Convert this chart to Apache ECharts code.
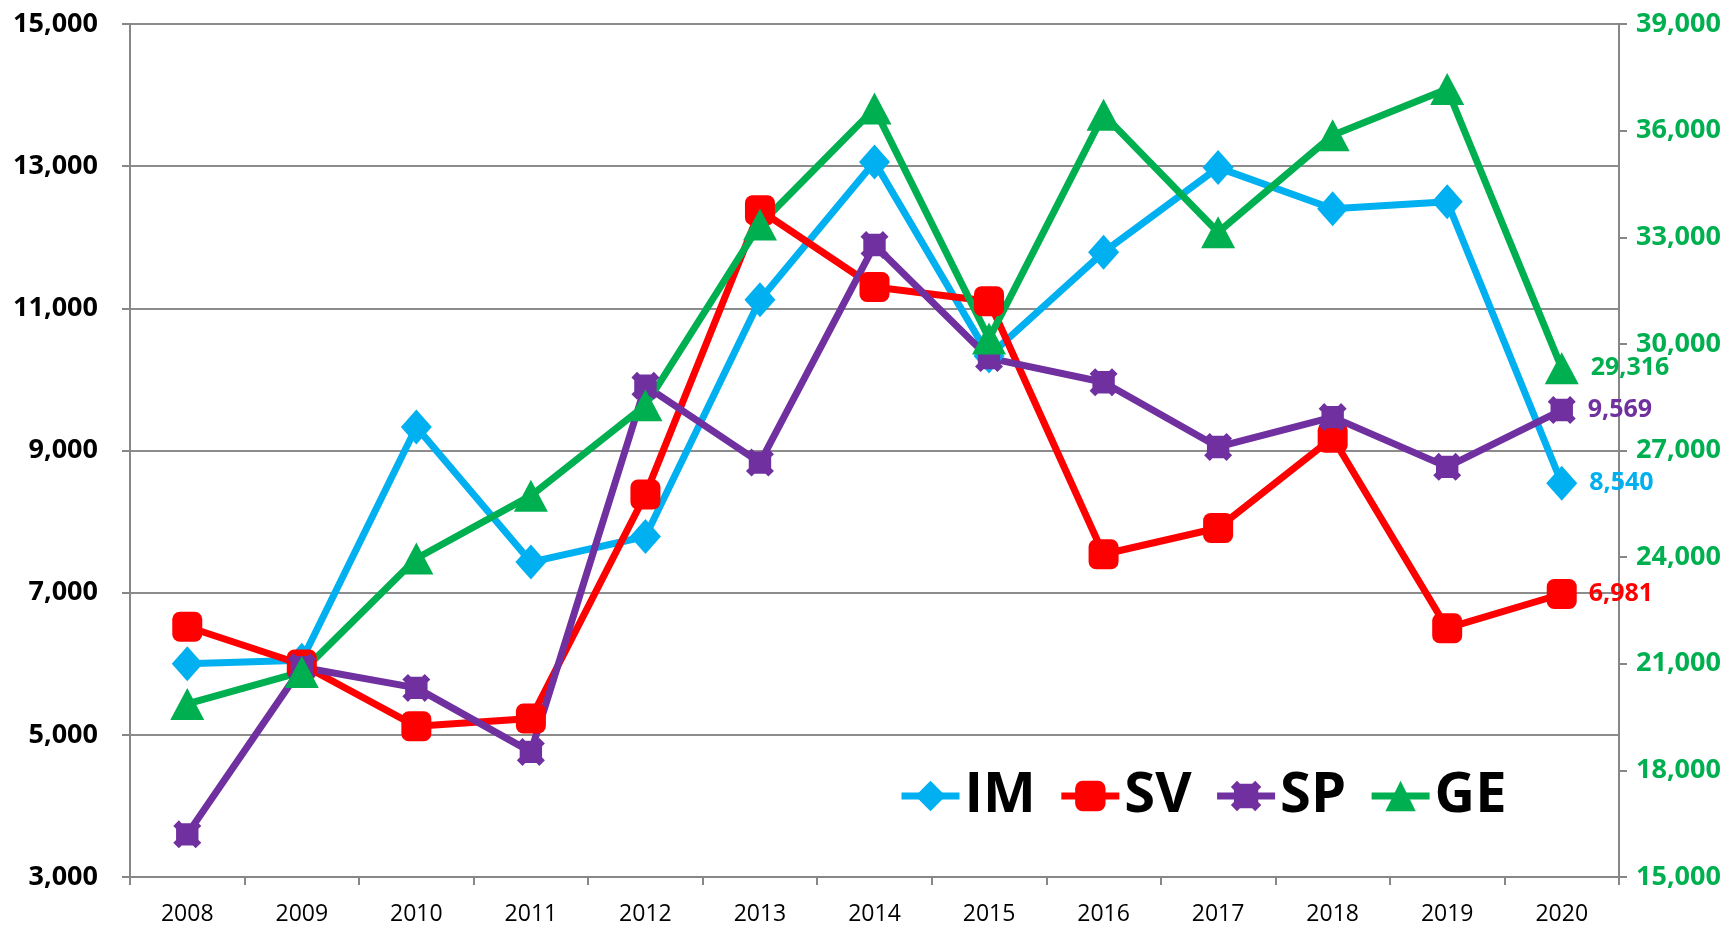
<!DOCTYPE html>
<html>
<head>
<meta charset="utf-8">
<title>IM SV SP GE</title>
<script src="https://cdn.jsdelivr.net/npm/echarts@6/dist/echarts.min.js"></script>
<style>
  html, body { margin: 0; padding: 0; background: #fff; }
  #chart { width: 1733px; height: 926px; }
</style>
</head>
<body>
<div id="chart"></div>
<script>
const years = ["2008", "2009", "2010", "2011", "2012", "2013", "2014", "2015", "2016", "2017", "2018", "2019", "2020"];

// left axis
const imValues = [6000, 6050, 9330, 7430, 7790, 11120, 13060, 10330, 11790, 12980, 12400, 12500, 8540];
const svValues = [6520, 5990, 5120, 5230, 8380, 12380, 11300, 11100, 7540, 7910, 9180, 6500, 6981];
const spValues = [3600, 5950, 5660, 4760, 9910, 8830, 11890, 10300, 9960, 9050, 9470, 8770, 9569];
// right axis
const geValues = [19870, 20770, 23960, 25730, 28270, 33360, 36620, 30150, 36450, 33140, 35870, 37170, 29316];

const leftAxisRange = { min: 3000, max: 15000, interval: 2000 };
const rightAxisRange = { min: 15000, max: 39000, interval: 3000 };

const fontFamily = "'Open Sans', 'Noto Sans', sans-serif";
const axisGray = "#878787";

const fmt = (v) => Number(v).toLocaleString("en-US");

const spPath = "path://M0,2 L2,0 L3,1 L7,1 L8,0 L10,2 L9,3 L9,7 L10,8 L8,10 L7,9 L3,9 L2,10 L0,8 L1,7 L1,3 Z";

const makeSeries = (name, data, color, symbol, symbolSize, yAxisIndex) => ({
  name,
  type: "line",
  data,
  yAxisIndex,
  symbol,
  symbolSize,
  showAllSymbol: true,
  lineStyle: { width: 7, color },
  itemStyle: { color },
  emphasis: { disabled: true },
  label: {
    show: true,
    position: "right",
    distance: 12,
    color,
    fontFamily,
    fontWeight: "bold",
    fontSize: 25,
    formatter: (p) => (p.dataIndex === data.length - 1 ? fmt(p.value) : ""),
  },
});

const chart = echarts.init(document.getElementById("chart"));

const option = {
  animation: false,
  textStyle: { fontFamily },
  grid: {
    left: 130,
    right: 114,
    top: 24,
    bottom: 48,
  },
  legend: {
    left: 893,
    top: 763,
    itemWidth: 58,
    itemHeight: 38,
    itemGap: 22,
    lineStyle: { width: 7 },
    textStyle: {
      fontFamily,
      fontSize: 56,
      fontWeight: "bold",
      color: "#000",
    },
    data: ["IM", "SV", "SP", "GE"],
  },
  xAxis: {
    type: "category",
    data: years,
    boundaryGap: true,
    axisLine: { lineStyle: { color: axisGray, width: 2 } },
    axisTick: { show: true, length: 8, lineStyle: { color: axisGray, width: 2 } },
    axisLabel: { color: "#000", fontSize: 23, margin: 26, fontFamily },
  },
  yAxis: [
    {
      type: "value",
      position: "left",
      ...leftAxisRange,
      axisLine: { show: true, lineStyle: { color: axisGray, width: 2 } },
      axisTick: { show: true, length: 8, lineStyle: { color: axisGray, width: 2 } },
      splitLine: { show: true, lineStyle: { color: "#8c8c8c", width: 2 } },
      axisLabel: {
        color: "#000",
        fontSize: 27,
        fontWeight: "bold",
        margin: 32,
        fontFamily,
        formatter: fmt,
      },
    },
    {
      type: "value",
      position: "right",
      ...rightAxisRange,
      axisLine: { show: true, lineStyle: { color: axisGray, width: 2 } },
      axisTick: { show: true, length: 8, lineStyle: { color: axisGray, width: 2 } },
      splitLine: { show: false },
      axisLabel: {
        color: "#00B050",
        fontSize: 27,
        fontWeight: "bold",
        margin: 17,
        fontFamily,
        formatter: fmt,
      },
    },
  ],
  series: [
    makeSeries("IM", imValues, "#00B0F0", "diamond", [31, 35], 0),
    makeSeries("SV", svValues, "#FF0000", "roundRect", [30, 30], 0),
    makeSeries("SP", spValues, "#7030A0", spPath, [28, 28], 0),
    makeSeries("GE", geValues, "#00B050", "triangle", [34, 32], 1),
  ],
};

chart.setOption(option);
</script>
</body>
</html>
